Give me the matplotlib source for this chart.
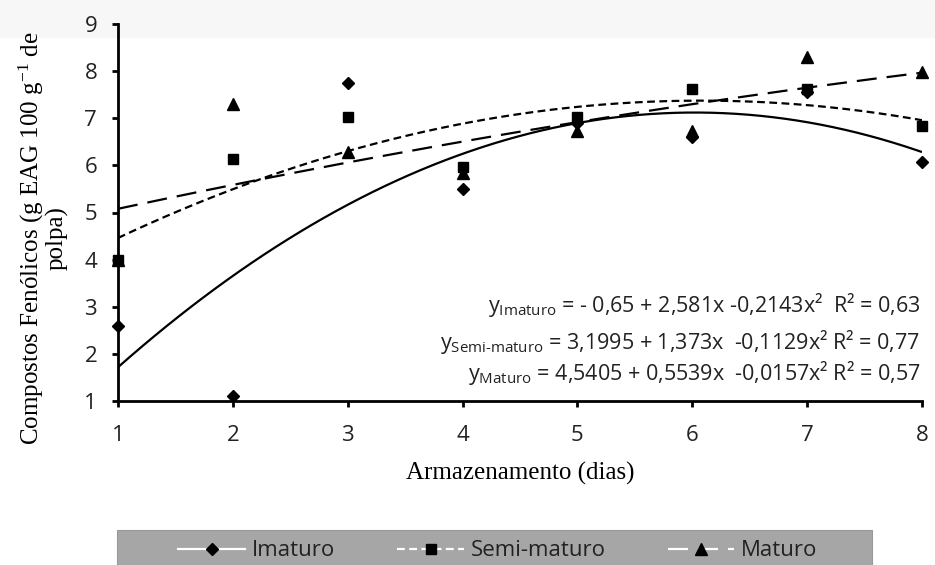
import numpy as np
import matplotlib
matplotlib.use("Agg")
import matplotlib.pyplot as plt
from matplotlib.lines import Line2D
from matplotlib.patches import Rectangle

plt.rcParams['mathtext.fontset'] = 'custom'
plt.rcParams['mathtext.rm'] = 'Open Sans'

# Dias de armazenamento e teores medidos
dias = [1, 2, 3, 4, 5, 6, 7, 8]
imaturo = [2.6, 1.1, 7.75, 5.5, 6.9, 6.6, 7.55, 6.08]
semi_maturo = [4.0, 6.14, 7.03, 5.96, 7.02, 7.62, 7.62, 6.83]
maturo = [4.0, 7.31, 6.29, 5.83, 6.73, 6.72, 8.29, 7.98]

# Coeficientes das regressoes quadraticas (a + b x + c x^2)
coef_imaturo = [-0.65, 2.581, -0.2143]
coef_semi = [3.1995, 1.373, -0.1129]
coef_maturo = [4.5405, 0.5539, -0.0157]

eq_labels = [
    r"$\mathregular{y_{Imaturo}}$ = - 0,65 + 2,581x -0,2143x²  R² = 0,63",
    r"$\mathregular{y_{Semi\text{-}maturo}}$ = 3,1995 + 1,373x  -0,1129x² R² = 0,77",
    r"$\mathregular{y_{Maturo}}$ = 4,5405 + 0,5539x  -0,0157x² R² = 0,57",
]
eq_ypos = [0.255, 0.157, 0.074]

sans = "Open Sans"
serif = "Liberation Serif"

fig = plt.figure(figsize=(9.35, 5.65), dpi=100)
fig.patches.append(Rectangle((0, 1 - 37 / 565), 1, 37 / 565, transform=fig.transFigure,
                             color="#f7f7f7", zorder=-10))
ax = fig.add_axes([118 / 935, 1 - 401 / 565, (922 - 118) / 935, (401 - 24) / 565])
ax.patch.set_alpha(0)

xs = np.linspace(1, 8, 200)


def quad(c, x):
    return c[0] + c[1] * x + c[2] * x ** 2


ax.plot(xs, quad(coef_imaturo, xs), color="black", lw=1.6, solid_capstyle="butt")
ax.plot(xs, quad(coef_semi, xs), color="black", lw=1.6, dashes=(3.5, 2))
ax.plot(xs, quad(coef_maturo, xs), color="black", lw=1.6, dashes=(9, 4.5))

ax.plot(dias, imaturo, "D", color="black", ms=6, clip_on=False, zorder=5)
ax.plot(dias, semi_maturo, "s", color="black", ms=7.5, clip_on=False, zorder=5)
ax.plot(dias, maturo, "^", color="black", ms=8, clip_on=False, zorder=5)

ax.set_xlim(1, 8)
ax.set_ylim(1, 9)
ax.set_xticks(dias)
ax.set_yticks(range(1, 10))
for s in ["top", "right"]:
    ax.spines[s].set_visible(False)
for s in ["left", "bottom"]:
    ax.spines[s].set_linewidth(2)
ax.tick_params(direction="out", length=4, width=2, labelsize=16)
ax.tick_params(axis="x", pad=13)
ax.tick_params(axis="y", pad=11)
for lab in ax.get_xticklabels() + ax.get_yticklabels():
    lab.set_fontfamily(sans)
    lab.set_color("#222222")

ax.set_xlabel("Armazenamento (dias)", fontfamily=serif, fontsize=18, labelpad=12)
fig.text(0.046, 1 - 238 / 565,
         "Compostos Fenólicos (g EAG 100 g$\\mathregular{^{-1}}$ de\npolpa)",
         rotation=90, ha="center", va="center", multialignment="center",
         fontfamily=serif, fontsize=18, linespacing=0.95)

for txt, yp in zip(eq_labels, eq_ypos):
    ax.text(0.998, yp, txt, transform=ax.transAxes, ha="right", va="center",
            fontfamily=sans, fontsize=15.5, color="#222222")

# Faixa cinza da legenda
fig.patches.append(Rectangle((117 / 935, 0), (872 - 117) / 935, 1 - 530 / 565,
                             transform=fig.transFigure, facecolor="#a6a6a6",
                             edgecolor="#999999", lw=0.8, zorder=-5))
handles = [
    Line2D([], [], color="white", lw=1.6, marker="D", mfc="black", mec="black", ms=6),
    Line2D([], [], color="white", lw=1.6, dashes=(3.5, 2), marker="s", mfc="black", mec="black", ms=7.5),
    Line2D([], [], color="white", lw=1.6, dashes=(9, 4.5), marker="^", mfc="black", mec="black", ms=8),
]
leg = fig.legend(handles, ["Imaturo", "Semi-maturo", "Maturo"], loc="center",
                 bbox_to_anchor=(498 / 935, 1 - 551 / 565), ncol=3, frameon=False,
                 handlelength=3.0, handletextpad=0.3, columnspacing=2.8,
                 prop={"family": sans, "size": 16})
for t in leg.get_texts():
    t.set_color("#222222")

fig.savefig("out.png", dpi=100)
